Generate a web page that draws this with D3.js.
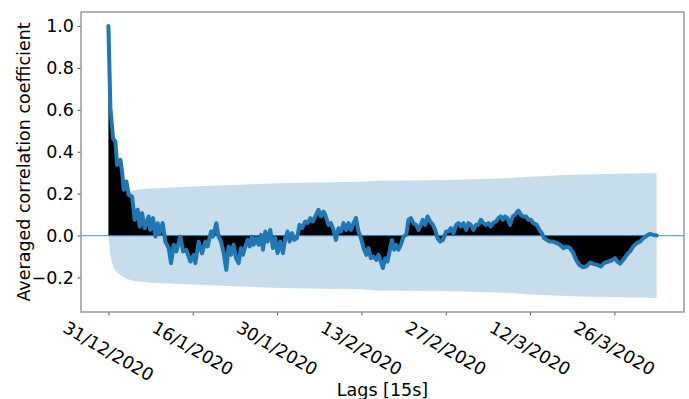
<!DOCTYPE html>
<html>
<head>
<meta charset="utf-8">
<script src="https://cdn.jsdelivr.net/npm/d3@7/dist/d3.min.js"></script>
<style>
  body { margin: 0; background: #fff; }
  svg { display: block; font-family: "DejaVu Sans", sans-serif; }
</style>
</head>
<body>
<svg id="chart" width="689" height="399"></svg>
<script>
// lag in days (x axis ticks every 14 days)
var lagDays = [0, 0.33, 0.78, 1.16, 1.44, 1.99, 2.27, 2.54, 2.99, 3.37, 3.93, 4.36, 4.86, 5.19, 5.59, 6.02, 6.68, 6.97, 7.41, 7.80,
  8.18, 8.46, 9.01, 9.45, 10.00, 10.40, 10.83, 11.28, 11.94, 12.39, 12.94, 13.60, 14.15, 14.43, 14.98, 15.54, 16.09, 16.47, 17.04, 17.37,
  17.91, 18.30, 18.69, 19.13, 19.57, 19.96, 20.35, 20.78, 21.18, 21.61, 22.01, 22.34, 22.73, 23.11, 23.44, 23.84, 24.10, 24.55, 24.93, 25.33,
  25.66, 26.04, 26.42, 26.87, 27.32, 27.70, 28.08, 28.53, 28.98, 29.36, 29.74, 30.07, 30.47, 30.85, 31.30, 31.73, 32.13, 32.68, 33.06, 33.51,
  33.95, 34.34, 34.88, 35.28, 35.71, 35.99, 36.54, 36.94, 37.37, 37.77, 38.20, 38.60, 39.03, 39.48, 39.86, 40.26, 40.69, 41.09, 41.52, 41.92,
  42.35, 42.80, 43.18, 43.58, 44.01, 44.46, 44.84, 45.12, 45.57, 45.95, 46.33, 46.78, 47.06, 47.44, 47.77, 48.15, 48.55, 48.98, 49.43, 49.81,
  50.21, 50.64, 51.09, 51.47, 51.87, 52.20, 52.58, 52.96, 53.41, 53.86, 54.24, 54.62, 55.07, 55.52, 56.07, 56.45, 56.85, 57.28, 57.73, 58.11,
  58.51, 58.94, 59.38, 59.77, 60.16, 60.60, 61.04, 61.42, 61.82, 62.25, 62.70, 63.08, 63.48, 63.91, 64.36, 64.74, 65.14, 65.47, 65.85, 66.24,
  66.68, 67.13, 67.51, 68.06, 68.46, 68.89, 69.34, 69.72, 70.12, 70.55, 71.11, 71.54, 71.94, 72.32, 72.77, 73.32, 73.86, 74.43, 74.98, 75.52,
  76.09, 76.63, 77.18, 77.63, 78.18, 78.74, 79.29, 79.95, 80.50, 81.16, 81.73, 82.27, 82.99, 83.55, 84.10, 84.48, 84.93, 85.48, 86.04, 86.59,
  87.14, 87.70, 88.25, 88.81, 89.36, 89.91, 90.46, 91.0];

var acfValues = [1.0, 0.608, 0.464, 0.448, 0.337, 0.361, 0.305, 0.218, 0.258, 0.194, 0.186, 0.075, 0.123, 0.043, 0.107, 0.035, 0.091, 0.027, 0.083, -0.005,
  0.059, 0.011, 0.059, -0.029, -0.060, -0.132, -0.044, -0.076, -0.005, -0.076, -0.068, -0.124, -0.092, -0.132, -0.029, -0.085, -0.029, -0.052, 0.019, -0.005,
  0.059, -0.005, -0.029, -0.084, -0.164, -0.052, -0.092, -0.044, -0.108, -0.132, -0.060, -0.092, -0.052, -0.021, -0.052, -0.005, -0.044, -0.012, -0.044, 0.003,
  -0.068, 0.019, -0.029, 0.027, -0.060, -0.012, -0.084, -0.029, -0.084, -0.012, 0.019, -0.029, 0.011, -0.021, -0.012, 0.051, 0.035, 0.067, 0.059, 0.083,
  0.067, 0.091, 0.123, 0.091, 0.114, 0.099, 0.051, 0.059, 0.027, -0.021, 0.035, 0.019, 0.059, 0.027, 0.059, 0.027, 0.059, 0.083, 0.019, -0.012,
  -0.060, -0.092, -0.060, -0.108, -0.100, -0.116, -0.092, -0.116, -0.155, -0.108, -0.124, -0.060, -0.021, -0.068, -0.044, -0.068, -0.044, -0.005, 0.003, 0.075,
  0.083, 0.059, 0.051, 0.027, 0.051, 0.075, 0.051, 0.091, 0.067, 0.051, 0.027, -0.012, -0.029, -0.021, 0.019, 0.019, 0.035, 0.011, 0.051, 0.059,
  0.043, 0.059, 0.027, 0.059, 0.051, 0.027, 0.051, 0.051, 0.075, 0.059, 0.051, 0.059, 0.043, 0.062, 0.067, 0.083, 0.091, 0.075, 0.091, 0.083,
  0.051, 0.091, 0.099, 0.119, 0.099, 0.091, 0.091, 0.075, 0.075, 0.059, 0.051, 0.027, 0.011, -0.012, -0.021, -0.029, -0.029, -0.036, -0.044, -0.060,
  -0.052, -0.060, -0.084, -0.116, -0.140, -0.151, -0.148, -0.129, -0.135, -0.140, -0.148, -0.132, -0.124, -0.119, -0.108, -0.124, -0.135, -0.116, -0.092, -0.076,
  -0.052, -0.036, -0.029, -0.012, -0.001, 0.008, 0.003, 0.0];

// confidence band half width (symmetric around 0)
var confDays = [0, 0.3, 0.6, 0.9, 1.4, 2.0, 3.0, 4.5, 7, 15, 22, 28.5, 36, 42, 44.5, 50, 55, 60, 66, 70, 75, 80, 85, 91];
var confWidth = [0, 0.09, 0.13, 0.155, 0.175, 0.188, 0.208, 0.218, 0.225, 0.235, 0.243, 0.25, 0.254, 0.257, 0.262, 0.263, 0.265, 0.268, 0.273, 0.281, 0.288, 0.292, 0.295, 0.298];

var xTickValues = [0, 14, 28, 42, 56, 70, 84];
var xTickLabels = ['31/12/2020', '16/1/2020', '30/1/2020', '13/2/2020', '27/2/2020', '12/3/2020', '26/3/2020'];
var yTickValues = [-0.2, 0, 0.2, 0.4, 0.6, 0.8, 1.0];

var margin = {top: 12, right: 5, bottom: 87, left: 81};
var svg = d3.select('#chart');
var width = +svg.attr('width') - margin.left - margin.right;
var height = +svg.attr('height') - margin.top - margin.bottom;
var fontSize = 17.5;

var x = d3.scaleLinear().domain([-4.55, 95.55]).range([0, width]);
var y = d3.scaleLinear().domain([-0.365, 1.067]).range([height, 0]);

var g = svg.append('g').attr('transform', 'translate(' + margin.left + ',' + margin.top + ')');

var acf = lagDays.map(function(d, i) { return {lag: d, value: acfValues[i]}; });
var conf = confDays.map(function(d, i) { return {lag: d, w: confWidth[i]}; });

// confidence band
g.append('path')
  .datum(conf)
  .attr('fill', '#1f77b4')
  .attr('fill-opacity', 0.25)
  .attr('d', d3.area()
    .x(function(d) { return x(d.lag); })
    .y0(function(d) { return y(-d.w); })
    .y1(function(d) { return y(d.w); }));

// black area between zero and acf
g.append('path')
  .datum(acf)
  .attr('fill', '#000')
  .attr('d', d3.area()
    .x(function(d) { return x(d.lag); })
    .y0(y(0))
    .y1(function(d) { return y(d.value); }));

// zero line
g.append('line')
  .attr('x1', 0).attr('x2', width)
  .attr('y1', y(0)).attr('y2', y(0))
  .attr('stroke', '#1f77b4')
  .attr('stroke-opacity', 0.65)
  .attr('stroke-width', 1.2);

// acf line
g.append('path')
  .datum(acf)
  .attr('fill', 'none')
  .attr('stroke', '#1f77b4')
  .attr('stroke-width', 4)
  .attr('stroke-linejoin', 'round')
  .attr('stroke-linecap', 'round')
  .attr('d', d3.line()
    .x(function(d) { return x(d.lag); })
    .y(function(d) { return y(d.value); }));

// y axis
var yAxis = g.append('g')
  .call(d3.axisLeft(y).tickValues(yTickValues).tickSizeOuter(0).tickSize(3.5).tickPadding(3.5)
    .tickFormat(function(d) { return d3.format('.1f')(d).replace('-', '\u2212'); }));
yAxis.select('.domain').remove();
yAxis.selectAll('line').attr('stroke', '#555');
yAxis.selectAll('text').attr('font-size', fontSize).attr('fill', '#000').attr('font-family', 'DejaVu Sans');

// x axis ticks
var xAxis = g.append('g').attr('transform', 'translate(0,' + height + ')')
  .call(d3.axisBottom(x).tickValues(xTickValues).tickSizeOuter(0).tickSize(3.5).tickFormat(''));
xAxis.select('.domain').remove();
xAxis.selectAll('line').attr('stroke', '#555');

// rotated x tick labels, bbox centred under the tick
var angle = 30;
var rad = angle * Math.PI / 180;
xTickValues.forEach(function(v, i) {
  var t = g.append('text')
    .attr('font-size', fontSize)
    .attr('fill', '#000')
    .attr('text-anchor', 'middle')
    .attr('dominant-baseline', 'central')
    .text(xTickLabels[i]);
  var w = t.node().getComputedTextLength();
  var h = fontSize * 1.0;
  var bh = w * Math.sin(rad) + h * Math.cos(rad);
  var cx = x(v);
  var cy = height + 6.5 + bh / 2;
  t.attr('transform', 'translate(' + cx + ',' + cy + ') rotate(' + angle + ')');
});

// spines
g.append('rect')
  .attr('x', 0).attr('y', 0)
  .attr('width', width).attr('height', height)
  .attr('fill', 'none')
  .attr('stroke', '#999')
  .attr('stroke-width', 1.5);

// axis labels
svg.append('text')
  .attr('x', margin.left + width / 2)
  .attr('y', 396)
  .attr('text-anchor', 'middle')
  .attr('font-size', fontSize)
  .attr('fill', '#000')
  .text('Lags [15s]');

svg.append('text')
  .attr('transform', 'translate(29.5,' + (margin.top + height / 2) + ') rotate(-90)')
  .attr('text-anchor', 'middle')
  .attr('font-size', fontSize)
  .attr('fill', '#000')
  .text('Averaged correlation coefficient');
</script>
</body>
</html>
